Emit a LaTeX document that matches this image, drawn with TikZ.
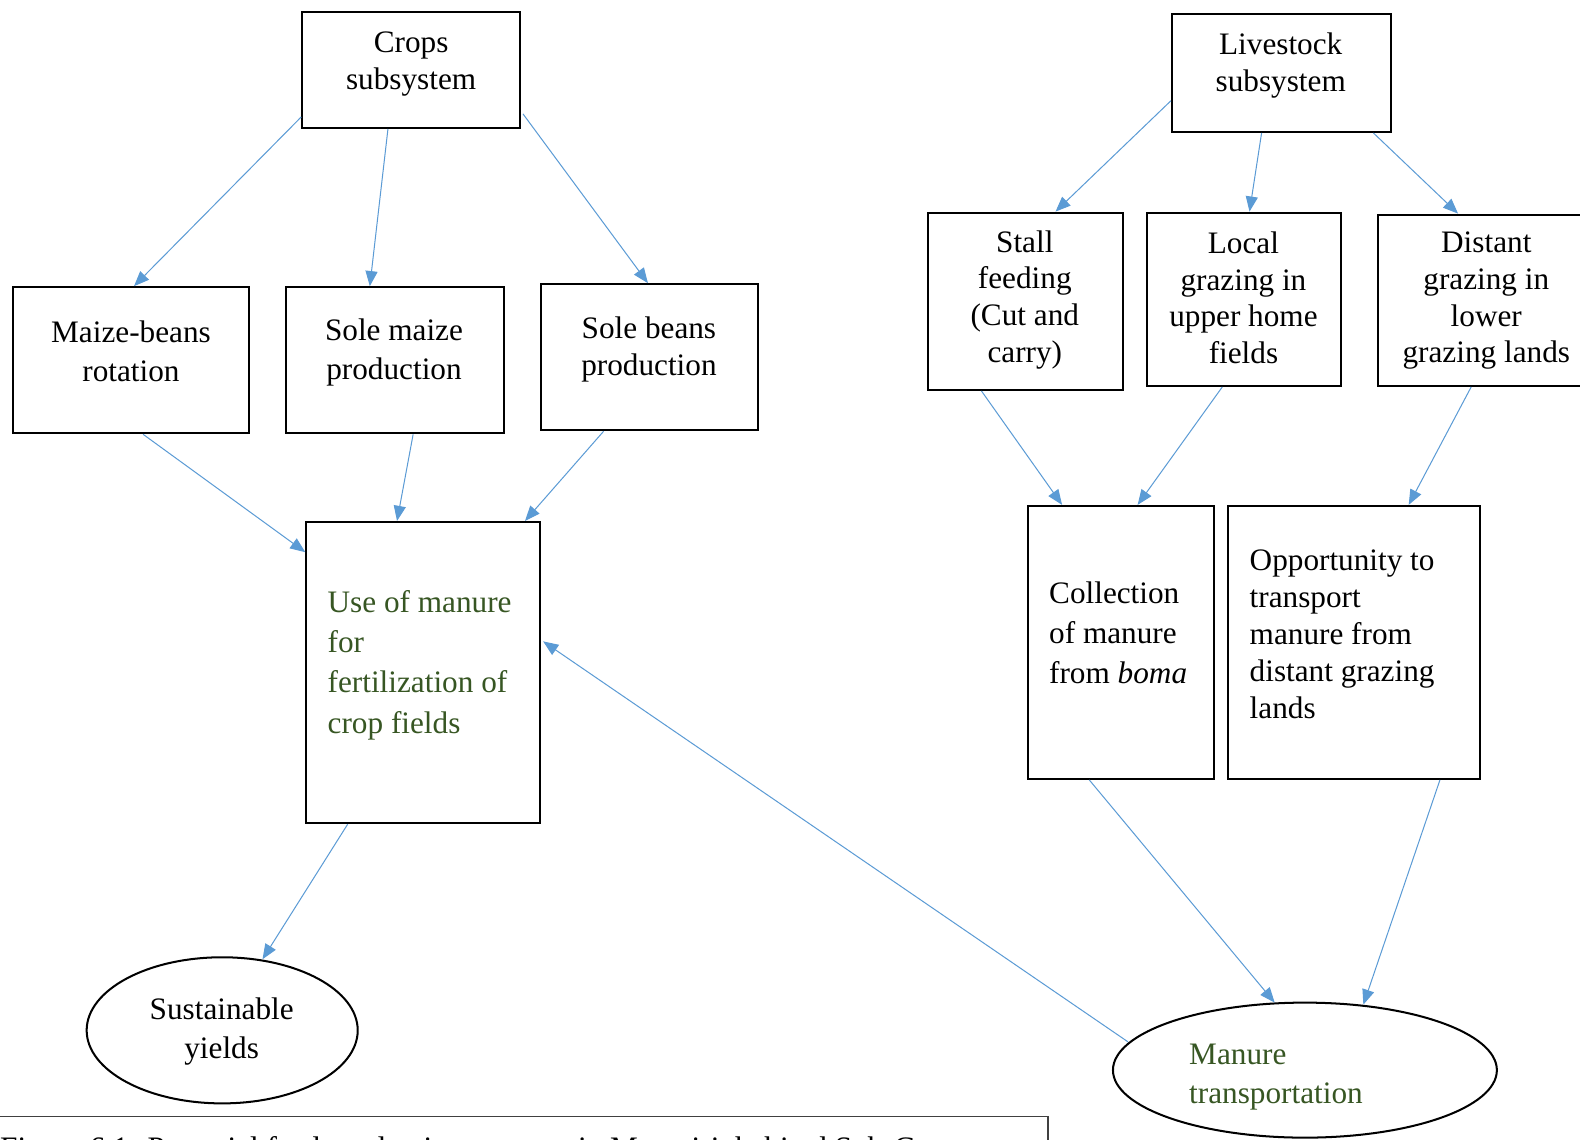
\documentclass[tikz,border=0pt]{standalone}
\usepackage{fontspec}
\setmainfont{Liberation Serif}
\usetikzlibrary{arrows.meta,calc,shapes.geometric}
\definecolor{arrowblue}{HTML}{5B9BD5}
\definecolor{txtgreen}{HTML}{375623}
\begin{document}
\begin{tikzpicture}[x=1pt,y=-1pt,
  box/.style={draw=black,line width=2pt,inner sep=0pt},
  oval/.style={draw=black,line width=2pt,ellipse,inner sep=0pt},
  txt/.style={inner sep=0pt,align=center,font=\fontsize{31}{37}\selectfont},
  ltxt/.style={inner sep=0pt,align=left,anchor=west,font=\fontsize{31}{38}\selectfont},
  arr/.style={draw=arrowblue,line width=1pt,-{Triangle[length=15pt,width=12pt]}},
]
\clip (0,0) rectangle (1568,1131);
\fill[white] (0,0) rectangle (1568,1131);

% boxes
\node[box,minimum width=216pt,minimum height=115pt] (crops) at (408,69.5) {};
\node[box,minimum width=217pt,minimum height=117pt] (live) at (1271.5,72.5) {};
\node[box,minimum width=234pt,minimum height=145pt] (maize) at (130,357.5) {};
\node[box,minimum width=216pt,minimum height=145pt] (smaize) at (392,357.5) {};
\node[box,minimum width=215pt,minimum height=145pt] (sbeans) at (644.5,354.5) {};
\node[box,minimum width=193pt,minimum height=176pt] (stall) at (1017.5,299) {};
\node[box,minimum width=193pt,minimum height=172pt] (local) at (1234.5,297) {};
\node[box,minimum width=214pt,minimum height=170pt] (distant) at (1475,298) {};
\node[box,minimum width=232pt,minimum height=299pt] (use) at (420,667.5) {};
\node[box,minimum width=185pt,minimum height=271pt] (coll) at (1112.5,637.5) {};
\node[box,minimum width=250pt,minimum height=271pt] (opp) at (1344,637.5) {};
\node[oval,minimum width=269pt,minimum height=145pt] (sy) at (220.5,1022.5) {};
\node[oval,minimum width=381pt,minimum height=134pt] (mt) at (1295,1062) {};

% texts
\node[txt] (crops-t) at (408,63.5) {Crops\\subsystem};
\node[txt] (live-t) at (1271,65) {Livestock\\subsystem};
\node[txt,font=\fontsize{31}{39}\selectfont] (maize-t) at (130,348.5) {Maize-beans\\rotation};
\node[txt,font=\fontsize{31}{39}\selectfont] (smaize-t) at (391,349.5) {Sole maize\\production};
\node[txt] (sbeans-t) at (644,346.5) {Sole beans\\production};
\node[txt,font=\fontsize{31}{36.5}\selectfont] (stall-t) at (1017,297.5) {Stall\\feeding\\(Cut and\\carry)};
\node[txt,font=\fontsize{31}{36.5}\selectfont] (local-t) at (1234,295.5) {Local\\grazing in\\upper home\\fields};
\node[txt,font=\fontsize{31}{36.5}\selectfont] (distant-t) at (1475,298.5) {Distant\\grazing in\\lower\\grazing lands};
\node[ltxt,text=txtgreen,font=\fontsize{31}{40}\selectfont] (use-t) at (325,660) {Use of manure\\for\\fertilization of\\crop fields};
\node[ltxt,font=\fontsize{31}{40}\selectfont] (coll-t) at (1041,628) {Collection\\of manure\\from \textit{boma}};
\node[ltxt,font=\fontsize{31}{36.75}\selectfont] (opp-t) at (1240,629.5) {Opportunity to\\transport\\manure from\\distant grazing\\lands};
\node[txt,font=\fontsize{31}{39}\selectfont] (sy-t) at (220,1024) {Sustainable\\yields};
\node[ltxt,text=txtgreen] (mt-t) at (1180,1069) {Manure\\transportation};

% caption (cut off at the lower edge)
\draw[line width=1.5pt,black!75] (0,1108) -- (1040,1108) coordinate (capr) -- (1040,1140);
\node[anchor=base west,inner sep=0pt,font=\fontsize{31}{37}\selectfont] (cap) at (0,1150) {Figure 6.1: Potential feed production systems in Maasai-inhabited Sub-County};

% arrows
\draw[arr] ($(crops.south west)+(0,-12)$) -- ($(maize.north)+(3,0)$);
\draw[arr] ($(crops.south)+(-23,0)$) -- ($(smaize.north)+(-25,0)$);
\draw[arr] ($(crops.south east)+(2,-15)$) -- ($(sbeans.north)+(-1.5,0)$);
\draw[arr] ($(live.south west)+(0,-32)$) -- ($(stall.north)+(30,0)$);
\draw[arr] ($(live.south)+(-19.5,0)$) -- ($(local.north)+(5.5,0)$);
\draw[arr] ($(live.south east)+(-18,0)$) -- ($(distant.north west)+(80,0)$);
\draw[arr] ($(maize.south)+(12,0)$) -- ($(use.north west)+(0,31)$);
\draw[arr] ($(smaize.south)+(18,0)$) -- ($(use.north west)+(91,0)$);
\draw[arr] ($(sbeans.south)+(-45.5,0)$) -- ($(use.north east)+(-16,0)$);
\draw[arr] ($(stall.south)+(-43.5,0)$) -- ($(coll.north west)+(35,0)$);
\draw[arr] ($(local.south)+(-21.5,0)$) -- ($(coll.north west)+(110,0)$);
\draw[arr] ($(distant.south west)+(93,0)$) -- ($(opp.north)+(54,0)$);
\draw[arr] ($(coll.south)+(-31.5,0)$) -- ($(mt.north)+(-30,1)$);
\draw[arr] ($(opp.south)+(85,0)$) -- ($(mt.north)+(58,3)$);
\draw[arr] ($(use.south west)+(42,0)$) -- ($(sy.north)+(40,3)$);
\draw[arr] ($(mt.west)+(16,-28)$) -- ($(use.east)+(2,-31)$);
\end{tikzpicture}
\end{document}
